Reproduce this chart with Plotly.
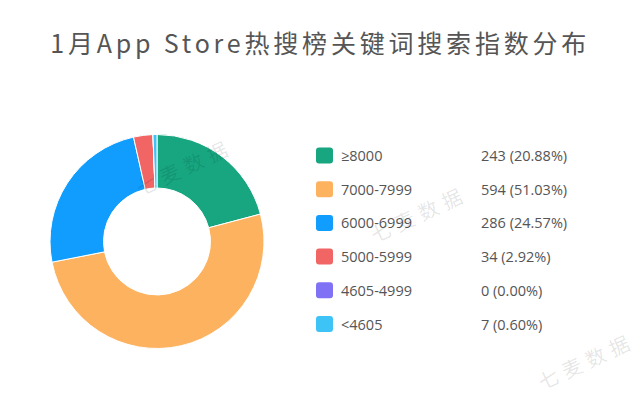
import plotly.graph_objects as go

# ---- data ----
categories = ["≥8000", "7000-7999", "6000-6999", "5000-5999", "4605-4999", "<4605"]
counts = [243, 594, 286, 34, 0, 7]
colors = ["#17A680", "#FDB25F", "#109DFE", "#F16565", "#8072F5", "#3EC3F7"]
title_text = "1月App Store热搜榜关键词搜索指数分布"
watermark = "七麦数据"

W, H = 640, 416
total = sum(counts)

fig = go.Figure()

# donut
cx, cy, r = 157, 241.5, 107
fig.add_trace(go.Pie(
    labels=categories, values=counts,
    marker=dict(colors=colors, line=dict(color="white", width=1)),
    hole=0.5, sort=False, direction="clockwise", rotation=0,
    textinfo="none", hoverinfo="label+value+percent",
    showlegend=False,
    domain=dict(x=[(cx - r) / W, (cx + r) / W],
                y=[(H - cy - r) / H, (H - cy + r) / H]),
))

def px_x(x):
    return x / W

def px_y(y):
    return 1 - y / H

shapes = []
annotations = []

# title
annotations.append(dict(
    text=title_text, x=0.5, y=px_y(42), xref="paper", yref="paper",
    xanchor="center", yanchor="middle", showarrow=False,
    font=dict(family="Noto Sans CJK SC, Noto Sans", size=25, color="#555555"),
))

# custom legend
row0, step = 155.5, 33.7
legend_font = dict(family="Open Sans, Liberation Sans, Noto Sans CJK SC", size=14.5, color="#555555")
for i, (cat, cnt, col) in enumerate(zip(categories, counts, colors)):
    yc = row0 + i * step
    x0, x1 = 316, 333
    y0, y1 = yc - 8, yc + 8
    rr = 3
    path = (f"M {px_x(x0 + rr)} {px_y(y0)} L {px_x(x1 - rr)} {px_y(y0)} "
            f"Q {px_x(x1)} {px_y(y0)} {px_x(x1)} {px_y(y0 + rr)} "
            f"L {px_x(x1)} {px_y(y1 - rr)} Q {px_x(x1)} {px_y(y1)} {px_x(x1 - rr)} {px_y(y1)} "
            f"L {px_x(x0 + rr)} {px_y(y1)} Q {px_x(x0)} {px_y(y1)} {px_x(x0)} {px_y(y1 - rr)} "
            f"L {px_x(x0)} {px_y(y0 + rr)} Q {px_x(x0)} {px_y(y0)} {px_x(x0 + rr)} {px_y(y0)} Z")
    shapes.append(dict(type="path", path=path, xref="paper", yref="paper",
                       fillcolor=col, line=dict(width=0)))
    annotations.append(dict(
        text=cat, x=px_x(339), y=px_y(yc), xref="paper", yref="paper",
        xanchor="left", yanchor="middle", showarrow=False, font=legend_font,
    ))
    pct = cnt / total * 100
    annotations.append(dict(
        text=f"{cnt} ({pct:.2f}%)", x=px_x(479), y=px_y(yc), xref="paper", yref="paper",
        xanchor="left", yanchor="middle", showarrow=False, font=legend_font,
    ))

# faint watermarks
for (wx, wy) in [(184, 166), (419, 214), (586, 360)]:
    annotations.append(dict(
        text=watermark, x=px_x(wx), y=px_y(wy), xref="paper", yref="paper",
        xanchor="center", yanchor="middle", showarrow=False, textangle=-25,
        font=dict(family="Noto Sans CJK SC", size=20, color="rgba(0,0,0,0.11)"),
    ))

fig.update_layout(
    width=W, height=H,
    margin=dict(l=0, r=0, t=0, b=0),
    paper_bgcolor="white", plot_bgcolor="white",
    shapes=shapes, annotations=annotations,
)

post = (
    "document.body.style.margin='0';"
    "document.querySelectorAll('text.annotation-text').forEach(function(t){"
    "var s=t.getAttribute('data-unformatted')||'';"
    "if(s.indexOf('App Store')>=0){t.style.letterSpacing='3.8px';}"
    "if(s==='七麦数据'){t.style.letterSpacing='6px';}"
    "});"
)
fig.write_html("out.html", config={"displayModeBar": False}, post_script=post)
